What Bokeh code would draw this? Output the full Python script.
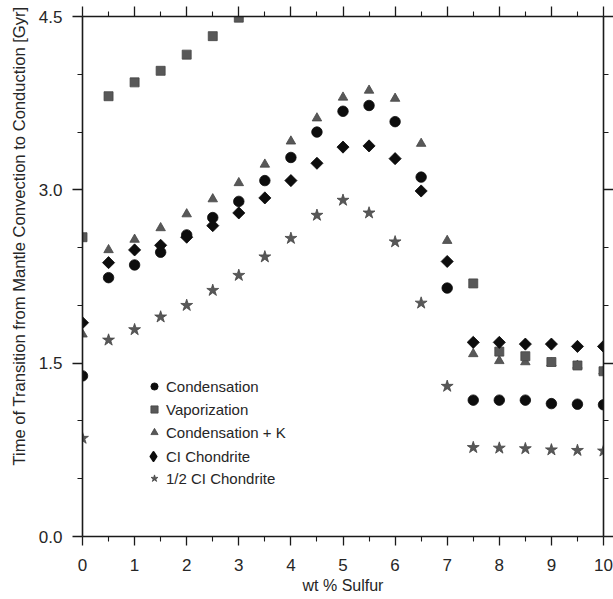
import math
from bokeh.plotting import figure
from bokeh.models import (Range1d, LinearAxis, FixedTicker, NumeralTickFormatter,
                          Title, Legend, LegendItem, ColumnDataSource)
from bokeh.embed import file_html
from bokeh.resources import INLINE

NaN = float("nan")

sulfur = [0, 0.5, 1, 1.5, 2, 2.5, 3, 3.5, 4, 4.5, 5, 5.5, 6, 6.5, 7, 7.5, 8, 8.5, 9, 9.5, 10]

condensation = [1.39, 2.24, 2.35, 2.46, 2.61, 2.76, 2.90, 3.08, 3.28, 3.50, 3.68,
                3.73, 3.59, 3.11, 2.15, 1.18, 1.18, 1.18, 1.15, 1.145, 1.14]
vaporization = [2.59, 3.81, 3.93, 4.03, 4.17, 4.33, 4.49, NaN, NaN, NaN, NaN,
                NaN, NaN, NaN, NaN, 2.19, 1.60, 1.56, 1.51, 1.48, 1.43]
condensation_k = [1.75, 2.48, 2.57, 2.67, 2.79, 2.92, 3.06, 3.22, 3.42, 3.62, 3.80,
                  3.86, 3.79, 3.40, 2.56, 1.58, 1.52, 1.51, 1.50, 1.48, 1.43]
ci_chondrite = [1.85, 2.37, 2.48, 2.52, 2.59, 2.69, 2.80, 2.93, 3.08, 3.23, 3.37,
                3.38, 3.27, 2.99, 2.38, 1.68, 1.68, 1.665, 1.665, 1.645, 1.645]
half_ci_chondrite = [0.85, 1.70, 1.79, 1.90, 2.00, 2.13, 2.26, 2.42, 2.58, 2.78, 2.91,
                     2.80, 2.55, 2.02, 1.30, 0.77, 0.765, 0.76, 0.75, 0.745, 0.74]

series_names = ["Condensation", "Vaporization", "Condensation + K",
                "CI Chondrite", "1/2 CI Chondrite"]

x_ticks = [0, 1, 2, 3, 4, 5, 6, 7, 8, 9, 10]
x_minor = [0.5, 1.5, 2.5, 3.5, 4.5, 5.5, 6.5, 7.5, 8.5, 9.5]
y_ticks = [0.0, 1.5, 3.0, 4.5]
y_minor = [0.5, 1.0, 2.0, 2.5, 3.5, 4.0]

FONT = "Liberation Sans"
TXT = "#262626"
AX = "#1a1a1a"
BLACK = "#0d0d0d"
GRAY = "#585858"
GRAY_EDGE = "#454545"

src = ColumnDataSource(dict(x=sulfur, c=condensation, v=vaporization,
                            ck=condensation_k, ci=ci_chondrite, hci=half_ci_chondrite))

p = figure(width=613, height=599, x_range=Range1d(0, 10), y_range=Range1d(0, 4.5),
           output_backend="svg", toolbar_location=None,
           x_axis_location=None, y_axis_location=None,
           min_border_left=82, min_border_right=10, min_border_top=16, min_border_bottom=63)
p.outline_line_color = None
p.xgrid.visible = False
p.ygrid.visible = False
p.background_fill_color = "white"
p.border_fill_color = "white"


def style_axis(ax, labels=True, major_out=10, minor_out=5):
    ax.axis_line_color = AX
    ax.axis_line_width = 1.6
    ax.major_tick_line_color = AX
    ax.minor_tick_line_color = AX
    ax.major_tick_line_width = 1.3
    ax.minor_tick_line_width = 1.1
    ax.major_tick_in = 0
    ax.minor_tick_in = 0
    ax.major_tick_out = major_out
    ax.minor_tick_out = minor_out
    if labels:
        ax.major_label_text_font = FONT
        ax.major_label_text_font_size = "17px"
        ax.major_label_text_color = TXT
        ax.major_label_standoff = 9
    else:
        ax.major_label_text_font_size = "0px"
        ax.major_label_standoff = 0
        ax.major_label_text_alpha = 0


xb = LinearAxis(ticker=FixedTicker(ticks=x_ticks, minor_ticks=x_minor),
                formatter=NumeralTickFormatter(format="0"))
style_axis(xb, major_out=9, minor_out=5)
xb.major_label_standoff = 13
xb.axis_label = "wt % Sulfur"
xb.axis_label_text_font = FONT
xb.axis_label_text_font_size = "16px"
xb.axis_label_text_font_style = "normal"
xb.axis_label_text_color = TXT
xb.axis_label_standoff = 3
p.add_layout(xb, "below")

yl = LinearAxis(ticker=FixedTicker(ticks=y_ticks, minor_ticks=y_minor),
                formatter=NumeralTickFormatter(format="0.0"))
style_axis(yl, major_out=10, minor_out=5)
yl.major_label_standoff = 10
p.add_layout(yl, "left")

xt = LinearAxis(ticker=FixedTicker(ticks=x_ticks, minor_ticks=x_minor))
style_axis(xt, labels=False, major_out=10, minor_out=5)
p.add_layout(xt, "above")

yr = LinearAxis(ticker=FixedTicker(ticks=y_ticks, minor_ticks=y_minor))
style_axis(yr, labels=False, major_out=10, minor_out=5)
p.add_layout(yr, "right")

ytitle = Title(text="Time of Transition from Mantle Convection to Conduction [Gyr]",
               align="left", offset=71, text_font=FONT, text_font_size="16.6px",
               text_font_style="normal", text_color=TXT, standoff=14)
p.add_layout(ytitle, "left")

# draw order: triangles below squares
r_ck = p.scatter("x", "ck", source=src, marker="triangle", size=9.5,
                 fill_color=GRAY, line_color=GRAY_EDGE, line_width=0.8)
r_v = p.scatter("x", "v", source=src, marker="square", size=9,
                fill_color=GRAY, line_color=GRAY_EDGE, line_width=0.8)
r_c = p.scatter("x", "c", source=src, marker="circle", size=10.5,
                fill_color=BLACK, line_color=BLACK, line_width=0.8)
# legend key for the CI Chondrite series (legend glyphs are never rotated);
# it lies fully underneath the rotated-square markers drawn next
r_ci_key = p.scatter("x", "ci", source=src, marker="diamond", size=8.2,
                     fill_color=BLACK, line_color=BLACK, line_width=2.2, line_join="round")
r_ci = p.scatter("x", "ci", source=src, marker="square", angle=math.pi / 4, size=8.6,
                 fill_color=BLACK, line_color=BLACK, line_width=0.8)
r_hci = p.scatter("x", "hci", source=src, marker="star", size=12.5,
                  fill_color=GRAY, line_color=GRAY_EDGE, line_width=0.8)


def make_legend(items, loc, gw=18, gh=20, standoff=3, pad=10):
    lg = Legend(items=items, location=loc)
    lg.border_line_alpha = 0
    lg.background_fill_alpha = 0
    lg.glyph_width = gw
    lg.glyph_height = gh
    lg.label_height = 20
    lg.label_standoff = standoff
    lg.spacing = 3
    lg.padding = pad
    lg.label_text_font = FONT
    lg.label_text_font_size = "15px"
    lg.label_text_color = TXT
    p.add_layout(lg, "center")
    return lg


make_legend([
    LegendItem(label=series_names[0], renderers=[r_c]),
    LegendItem(label=series_names[1], renderers=[r_v]),
    LegendItem(label=series_names[2], renderers=[r_ck]),
], (53, 84))
make_legend([LegendItem(label=series_names[3], renderers=[r_ci_key])],
            (60, 69), gw=22, gh=22, standoff=2, pad=0)
make_legend([LegendItem(label=series_names[4], renderers=[r_hci])], (53, 38))

open("out.html", "w").write(file_html(p, INLINE))
